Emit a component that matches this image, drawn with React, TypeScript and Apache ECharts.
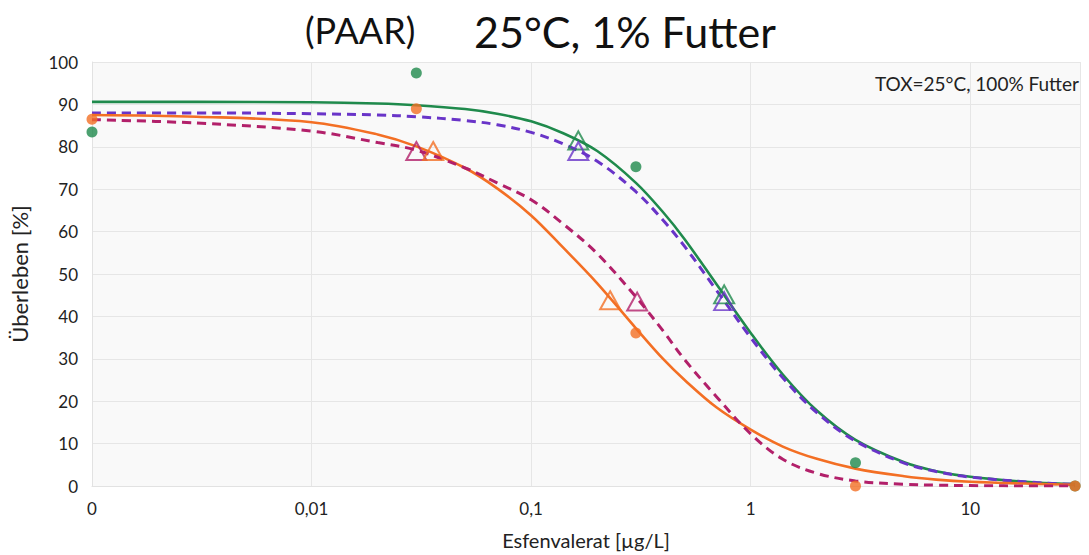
import React, { useEffect, useRef } from "react";
import * as echarts from "echarts";

const curveX = [0.001, 0.003, 0.01, 0.02, 0.03, 0.05, 0.07, 0.1, 0.14, 0.2, 0.3, 0.4, 0.5, 0.7, 1, 1.4, 2, 3, 5, 7, 10, 20, 30];
const greenCurve = [90.6, 90.6, 90.5, 90.2, 89.8, 88.9, 87.8, 86.0, 83.2, 79.0, 71.5, 64.5, 58.2, 47.5, 36.1, 26.3, 17.8, 10.9, 5.6, 3.5, 2.2, 0.8, 0.45];
const purpleCurve = [88.0, 88.0, 87.8, 87.5, 87.1, 86.2, 85.2, 83.4, 80.7, 76.6, 69.4, 62.6, 56.5, 46.1, 35.0, 25.5, 17.3, 10.6, 5.4, 3.4, 2.1, 0.8, 0.4];
const orangeCurve = [87.5, 87.1, 85.8, 82.9, 80.1, 75.0, 70.2, 63.8, 56.2, 47.8, 37.2, 29.9, 25.0, 18.5, 13.3, 9.3, 6.4, 4.1, 2.3, 1.5, 1.0, 0.5, 0.3];
const magentaCurve = [86.4, 85.6, 83.7, 81.0, 79.2, 75.0, 71.5, 67.5, 61.8, 54.8, 44.6, 36.5, 29.8, 21.0, 12.3, 6.3, 3.0, 1.2, 0.4, 0.2, 0.1, 0.0, 0.0];

// measured points
const dotX = [0.001, 0.03, 0.3, 3, 30];
const greenDots = [83.5, 97.4, 75.3, 5.5, 0];
const orangeDots = [86.5, 89.0, 36.1, 0, 0];

// EC10 / EC50 markers
const greenTriX = [0.164, 0.757];
const greenTriY = [81.5, 45.2];
const purpleTriX = [0.164, 0.757];
const purpleTriY = [79.0, 43.6];
const orangeTriX = [0.0358, 0.229];
const orangeTriY = [79.0, 43.8];
const magentaTriX = [0.03, 0.304];
const magentaTriY = [79.0, 43.5];

const xTickLabels: Record<string, string> = { "-3": "0", "-2": "0,01", "-1": "0,1", "0": "1", "1": "10" };

const GREEN = "#1f8a4c";
const ORANGE = "#f36f24";
const PURPLE = "#6934c8";
const MAGENTA = "#b2206a";

const zip = (xs: number[], ys: number[]) => xs.map((x, i) => [x, ys[i]]);

export default function App() {
  const ref = useRef<HTMLDivElement>(null);
  useEffect(() => {
    document.body.style.margin = "0";
    const chart = echarts.init(ref.current!, null, { renderer: "svg" });
    const font = "Lato, 'Open Sans', sans-serif";
    const lineSeries = (name: string, data: number[], color: string, dashed: boolean) => ({
      name,
      type: "line",
      data: zip(curveX, data),
      smooth: 0.35,
      showSymbol: false,
      symbol: "none",
      lineStyle: { color, width: dashed ? 3 : 2.6, type: dashed ? [9, 6] : "solid" },
      z: 2,
    });
    const triSeries = (name: string, xs: number[], ys: number[], color: string) => ({
      name,
      type: "scatter",
      data: zip(xs, ys),
      symbol: "triangle",
      symbolSize: [20, 18],
      itemStyle: { color: "rgba(0,0,0,0)", borderColor: color, borderWidth: 2 },
      z: 4,
    });
    const dotSeries = (name: string, ys: number[], color: string) => ({
      name,
      type: "scatter",
      data: zip(dotX, ys),
      symbol: "circle",
      symbolSize: 11,
      itemStyle: { color },
      z: 5,
    });
    chart.setOption({
      animation: false,
      backgroundColor: "#ffffff",
      textStyle: { fontFamily: font },
      grid: {
        left: 92,
        right: 9,
        top: 62,
        bottom: 66,
        show: true,
        backgroundColor: "#f9f9f9",
        borderWidth: 0,
      },
      graphic: [
        {
          type: "text",
          left: 305,
          top: 12,
          style: { text: "(PAAR)", font: `36px ${font}`, fill: "#111" },
        },
        {
          type: "text",
          left: 474,
          top: 10,
          style: { text: "25°C, 1% Futter", font: `43px ${font}`, fill: "#111" },
        },
        {
          type: "text",
          right: 10,
          top: 74,
          style: { text: "TOX=25°C, 100% Futter", font: `19px ${font}`, fill: "#222" },
        },
      ],
      xAxis: {
        type: "log",
        logBase: 10,
        min: 0.001,
        max: 31.6,
        name: "Esfenvalerat [µg/L]",
        nameLocation: "middle",
        nameGap: 44,
        nameTextStyle: { fontSize: 20, color: "#222", fontFamily: font },
        axisLine: { show: true, lineStyle: { color: "#e2e2e2" } },
        axisTick: { show: false },
        splitLine: { show: true, lineStyle: { color: "#e6e6e6", width: 1 } },
        axisLabel: {
          fontSize: 17,
          color: "#222",
          margin: 14,
          fontFamily: font,
          showMaxLabel: false,
          formatter: (v: number) => {
            const lg = Math.log10(v);
            const r = Math.round(lg);
            if (Math.abs(lg - r) > 1e-6) return "";
            return xTickLabels[String(r)] ?? "";
          },
        },
      },
      yAxis: {
        type: "value",
        min: 0,
        max: 100,
        interval: 10,
        name: "Überleben [%]",
        nameLocation: "middle",
        nameGap: 62,
        nameTextStyle: { fontSize: 22, color: "#222", fontFamily: font },
        axisLine: { show: true, lineStyle: { color: "#e2e2e2" } },
        axisTick: { show: false },
        splitLine: { show: true, lineStyle: { color: "#e6e6e6", width: 1 } },
        axisLabel: { fontSize: 17, color: "#222", margin: 14, fontFamily: font },
      },
      series: [
        lineSeries("green fit", greenCurve, GREEN, false),
        lineSeries("purple fit", purpleCurve, PURPLE, true),
        lineSeries("orange fit", orangeCurve, ORANGE, false),
        lineSeries("magenta fit", magentaCurve, MAGENTA, true),
        triSeries("green EC", greenTriX, greenTriY, GREEN),
        triSeries("purple EC", purpleTriX, purpleTriY, PURPLE),
        triSeries("magenta EC", magentaTriX, magentaTriY, MAGENTA),
        triSeries("orange EC", orangeTriX, orangeTriY, ORANGE),
        dotSeries("green data", greenDots, GREEN),
        dotSeries("orange data", orangeDots, ORANGE),
      ],
    });
    return () => chart.dispose();
  }, []);
  return <div ref={ref} style={{ width: 1089, height: 555 }} />;
}
